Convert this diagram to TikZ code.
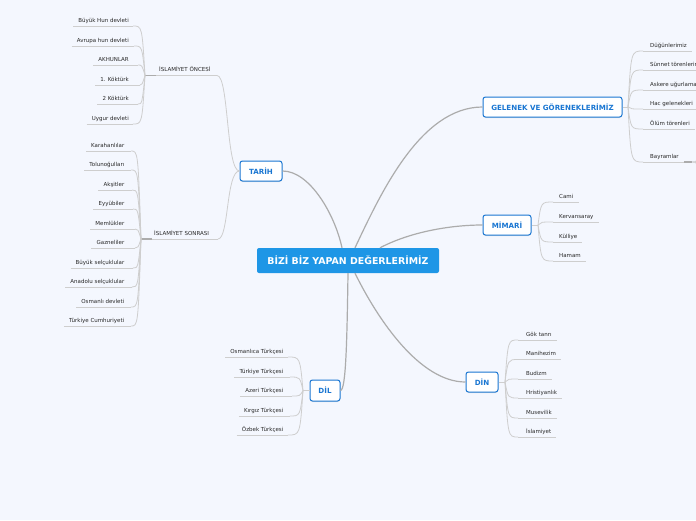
\documentclass[tikz,border=0pt]{standalone}
\usepackage{fontspec}
\setmainfont{DejaVu Sans}
\usetikzlibrary{calc,shadows}
\definecolor{bg}{RGB}{244,247,254}
\definecolor{rootblue}{RGB}{30,150,230}
\definecolor{brblue}{RGB}{25,118,210}
\definecolor{mainline}{RGB}{172,172,172}
\definecolor{leafline}{RGB}{206,206,206}
\definecolor{txt}{RGB}{40,40,40}
\tikzset{
 rootbox/.style={fill=rootblue, rounded corners=2pt, text=white, font=\fontsize{9.4}{10}\selectfont\bfseries, minimum width=182pt, minimum height=25pt, inner sep=0pt},
 branchbox/.style={draw=brblue, line width=1pt, fill=white, rounded corners=2.5pt, text=brblue, font=\fontsize{7.1}{8}\selectfont\bfseries, minimum height=20pt, inner sep=0pt, drop shadow={shadow xshift=0pt, shadow yshift=-1pt, opacity=0.2}},
 leaf/.style={text=txt, font=\fontsize{5.5}{6}\selectfont, inner sep=0pt},
 uline/.style={draw=leafline, line width=0.9pt},
 cline/.style={draw=leafline, line width=0.8pt},
 mline/.style={draw=mainline, line width=1.2pt},
 stubline/.style={draw=mainline, line width=1.2pt},
}
\begin{document}
\begin{tikzpicture}[x=1pt,y=-1pt]
\fill[bg] (0,0) rectangle (696,520);
\useasboundingbox (0,0) rectangle (696,520);

% main nodes
\node[rootbox] (root) at (348,260.5) {BİZİ BİZ YAPAN DEĞERLERİMİZ};
\node[branchbox, minimum width=42pt] (tarih) at (261,171) {TARİH};
\node[branchbox, minimum width=139pt] (gelenek) at (552.5,107) {GELENEK VE GÖRENEKLERİMİZ};
\node[branchbox, minimum width=48pt] (mimari) at (507,225) {MİMARİ};
\node[branchbox, minimum width=30pt, minimum height=21pt] (dil) at (325,390.5) {DİL};
\node[branchbox, minimum width=32pt] (din) at (482,382) {DİN};

% main connectors
\coordinate (rT1) at ($(root.north)+(-6,0)$);
\coordinate (rT2) at ($(root.north)+(7,0)$);
\coordinate (rT3) at ($(root.north)+(32,0)$);
\coordinate (rB1) at ($(root.south)+(0,0)$);
\coordinate (rB2) at ($(root.south)+(7,0)$);
\draw[mline] (tarih.east) .. controls (310,171) and (335,215) .. (rT1);
\draw[mline] (rT2) .. controls (380,195) and (420,107) .. (gelenek.west);
\draw[mline] (rT3) .. controls (410,232) and (450,225) .. (mimari.west);
\draw[mline] (rB1) .. controls (347,340) and (346,390) .. (dil.east);
\draw[mline] (rB2) .. controls (378,320) and (420,382) .. (din.west);

% TARIH subtopics
\node[leaf, anchor=base west] (preI) at (159,71) {İSLAMİYET ÖNCESİ};
\coordinate (jA) at (145,75.5);
\coordinate (preI-r) at (217,75.5);
\draw[uline] (jA) -- (preI-r);
\draw[stubline] (jA) -- ++(11,0);
\draw[cline] (preI-r) .. controls (229,75.5) and (226,171) .. (tarih.west);

\node[leaf, anchor=base west] (postI) at (154,235) {İSLAMİYET SONRASI};
\coordinate (jB) at (141,239);
\coordinate (postI-r) at (218,239);
\draw[uline] (jB) -- (postI-r);
\draw[stubline] (jB) -- ++(11,0);
\draw[cline] (postI-r) .. controls (229,239) and (226,171) .. (tarih.west);

% left leaves: ONCESI
\foreach \n/\t/\y/\xr in {a1/Büyük Hun devleti/26/133, a2/Avrupa hun devleti/46/134, a3/AKHUNLAR/65/138, a4/1. Köktürk/85/140, a5/2 Köktürk/104/138, a6/Uygur devleti/124/133}{
  \node[leaf, anchor=base east] (\n) at (129,\y-4) {\t};
  \coordinate (\n-r) at (\xr,\y);
  \coordinate (\n-l) at ($(\n.west |- \n-r)+(-5,0)$);
  \draw[uline] (\n-l) -- (\n-r);
  \draw[cline] (jA) .. controls ($(jA |- \n-r)+(-3,0)$) .. (\n-r);
}
% left leaves: SONRASI
\foreach \n/\t/\y/\xr in {b1/Karahanlılar/151/131, b2/Tolunoğulları/170/131, b3/Akşitler/190/132, b4/Eyyübiler/209/133, b5/Memlükler/229/135, b6/Gazneliler/248/135, b7/Büyük selçuklular/268/133, b8/Anadolu selçuklular/287/132, b9/Osmanlı devleti/307/131, b10/Türkiye Cumhuriyeti/326/131}{
  \node[leaf, anchor=base east] (\n) at (124.5,\y-4) {\t};
  \coordinate (\n-r) at (\xr,\y);
  \coordinate (\n-l) at ($(\n.west |- \n-r)+(-5,0)$);
  \draw[uline] (\n-l) -- (\n-r);
  \draw[cline] (jB) .. controls ($(jB |- \n-r)+(-3,0)$) .. (\n-r);
}
% DIL leaves
\coordinate (jD) at (303,390.5);
\draw[cline] (dil.west) -- (jD);
\foreach \n/\t/\y/\xr in {d1/Osmanlıca Türkçesi/357/288, d2/Türkiye Türkçesi/377/290, d3/Azeri Türkçesi/396/292, d4/Kırgız Türkçesi/416/290, d5/Özbek Türkçesi/435/288}{
  \node[leaf, anchor=base east] (\n) at (283.5,\y-4) {\t};
  \coordinate (\n-r) at (\xr,\y);
  \coordinate (\n-l) at ($(\n.west |- \n-r)+(-5,0)$);
  \draw[uline] (\n-l) -- (\n-r);
  \draw[cline] (jD) .. controls ($(jD |- \n-r)+(-3,0)$) .. (\n-r);
}
% GELENEK leaves
\coordinate (jG) at (628,107);
\draw[cline] (gelenek.east) -- (jG);
\foreach \n/\t/\y in {g1/Düğünlerimiz/51, g2/Sünnet törenlerimiz/70, g3/Askere uğurlama/90, g4/Hac gelenekleri/109, g5/Ölüm törenleri/129, g6/Bayramlar/162}{
  \node[leaf, anchor=base west] (\n) at (650,\y-4) {\t};
  \coordinate (\n-l) at (643,\y);
  \coordinate (\n-r) at ($(\n.east |- \n-l)+(5,0)$);
  \draw[uline] (\n-l) -- (\n-r);
  \draw[cline] (jG) .. controls ($(jG |- \n-l)+(3,0)$) .. (\n-l);
}
\coordinate (jBay) at (692,162);
\coordinate (bayUp) at (702,148);
\coordinate (bayDn) at (702,178);
\draw[stubline] (g6-r) -- (jBay);
\draw[cline] (jBay) .. controls (697,162) .. (bayUp);
\draw[cline] (jBay) .. controls (697,162) .. (bayDn);

% MIMARI leaves
\coordinate (jM) at (538,225);
\draw[cline] (mimari.east) -- (jM);
\foreach \n/\t/\y in {m1/Cami/202, m2/Kervansaray/222, m3/Külliye/242, m4/Hamam/261}{
  \node[leaf, anchor=base west] (\n) at (559,\y-4) {\t};
  \coordinate (\n-l) at (553,\y);
  \coordinate (\n-r) at ($(\n.east |- \n-l)+(5,0)$);
  \draw[uline] (\n-l) -- (\n-r);
  \draw[cline] (jM) .. controls ($(jM |- \n-l)+(3,0)$) .. (\n-l);
}
% DIN leaves
\coordinate (jN) at (505,382);
\draw[cline] (din.east) -- (jN);
\foreach \n/\t/\y in {n1/Gök tanrı/340, n2/Manihezim/359.5, n3/Budizm/379, n4/Hristiyanlık/398, n5/Musevilik/418, n6/İslamiyet/437}{
  \node[leaf, anchor=base west] (\n) at (526,\y-4) {\t};
  \coordinate (\n-l) at (518,\y);
  \coordinate (\n-r) at ($(\n.east |- \n-l)+(5,0)$);
  \draw[uline] (\n-l) -- (\n-r);
  \draw[cline] (jN) .. controls ($(jN |- \n-l)+(3,0)$) .. (\n-l);
}
\end{tikzpicture}
\end{document}
